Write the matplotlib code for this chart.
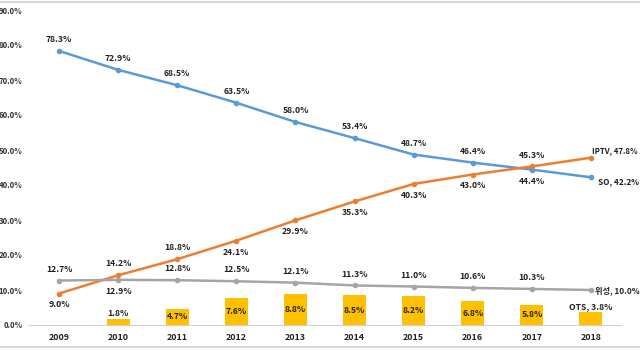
import numpy as np
import matplotlib.pyplot as plt
from matplotlib.lines import Line2D

plt.rcParams['font.family'] = ['Noto Sans CJK KR', 'DejaVu Sans']

years = ['2009', '2010', '2011', '2012', '2013', '2014', '2015', '2016', '2017', '2018']
so = [78.3, 72.9, 68.5, 63.5, 58.0, 53.4, 48.7, 46.4, 44.4, 42.2]
iptv = [9.0, 14.2, 18.8, 24.1, 29.9, 35.3, 40.3, 43.0, 45.3, 47.8]
sat = [12.7, 12.9, 12.8, 12.5, 12.1, 11.3, 11.0, 10.6, 10.3, 10.0]
ots = [0, 1.8, 4.7, 7.6, 8.8, 8.5, 8.2, 6.8, 5.8, 3.8]

# label above (+1) or below (-1) the point
so_pos = [1, 1, 1, 1, 1, 1, 1, 1, -1]
iptv_pos = [-1, 1, 1, -1, -1, -1, -1, -1, 1]
sat_pos = [1, -1, 1, 1, 1, 1, 1, 1, 1]

c_so = '#5B9BD5'
c_iptv = '#ED7D31'
c_sat = '#A5A5A5'
c_ots = '#FFC000'

fig = plt.figure(figsize=(6.4, 3.5), dpi=100)
ax = fig.add_axes([29.5 / 640, 1 - 325 / 350, 591 / 640, 315 / 350])
x = np.arange(len(years))

ax.bar(x[1:], ots[1:], width=0.39, color=c_ots, zorder=1)
for xs, ys, c in [(x, so, c_so), (x, iptv, c_iptv), (x, sat, c_sat)]:
    ax.plot(xs, ys, color=c, lw=1.8, marker='o', ms=3, zorder=3)

fs = 6.2
lab = dict(fontsize=fs, fontweight='bold', color='#222222', ha='center')

def point_labels(vals, pos):
    for i, (v, p) in enumerate(zip(vals[:-1], pos)):
        ax.annotate(f'{v:.1f}%', (x[i], v), xytext=(0, 5 * p), textcoords='offset points',
                    va='bottom' if p > 0 else 'top', **lab)

point_labels(so, so_pos)
point_labels(iptv, iptv_pos)
point_labels(sat, sat_pos)

# series end labels
end = dict(fontsize=5.9, fontweight='bold', color='#222222', ha='left')
ax.annotate(f'IPTV, {iptv[-1]:.1f}%', (x[-1], iptv[-1]), xytext=(0.5, 2), textcoords='offset points',
            va='bottom', **{**end, 'fontsize': 5.6})
ax.annotate(f'SO, {so[-1]:.1f}%', (x[-1], so[-1]), xytext=(5, 0), textcoords='offset points', va='top', **end)
ax.annotate(f'위성, {sat[-1]:.1f}%', (x[-1], sat[-1]), xytext=(3, -3.5), textcoords='offset points', va='bottom', **end)

# bar labels
for i in range(1, len(years) - 1):
    v = ots[i]
    if v < 3:
        ax.text(x[i], v + 0.3, f'{v:.1f}%', va='bottom', **lab)
    else:
        ax.text(x[i], v / 2, f'{v:.1f}%', va='center', **lab)
ax.text(x[-1], ots[-1] + 0.3, f'OTS, {ots[-1]:.1f}%', va='bottom', **lab)

ax.set_xlim(-0.5, len(years) - 0.5)
ax.set_ylim(0, 90)
ax.set_yticks(np.arange(0, 91, 10))
ax.set_yticklabels([f'{t:.1f}%' for t in np.arange(0, 91, 10)], fontsize=5.6, fontweight='bold', color='#333333')
ax.set_xticks(x)
ax.set_xticklabels(years, fontsize=6.4, fontweight='bold', color='#222222')
ax.tick_params(length=0, pad=6)
ax.tick_params(axis='y', pad=5)
for s in ['top', 'right', 'left']:
    ax.spines[s].set_visible(False)
ax.spines['bottom'].set_color('#D0D0D0')

fig.add_artist(Line2D([0, 1], [1 - 2 / 350, 1 - 2 / 350], color='#D8D8D8', lw=1.5))
fig.add_artist(Line2D([0, 1], [3 / 350, 3 / 350], color='#D8D8D8', lw=1.5))

fig.savefig('out.png', dpi=100)
